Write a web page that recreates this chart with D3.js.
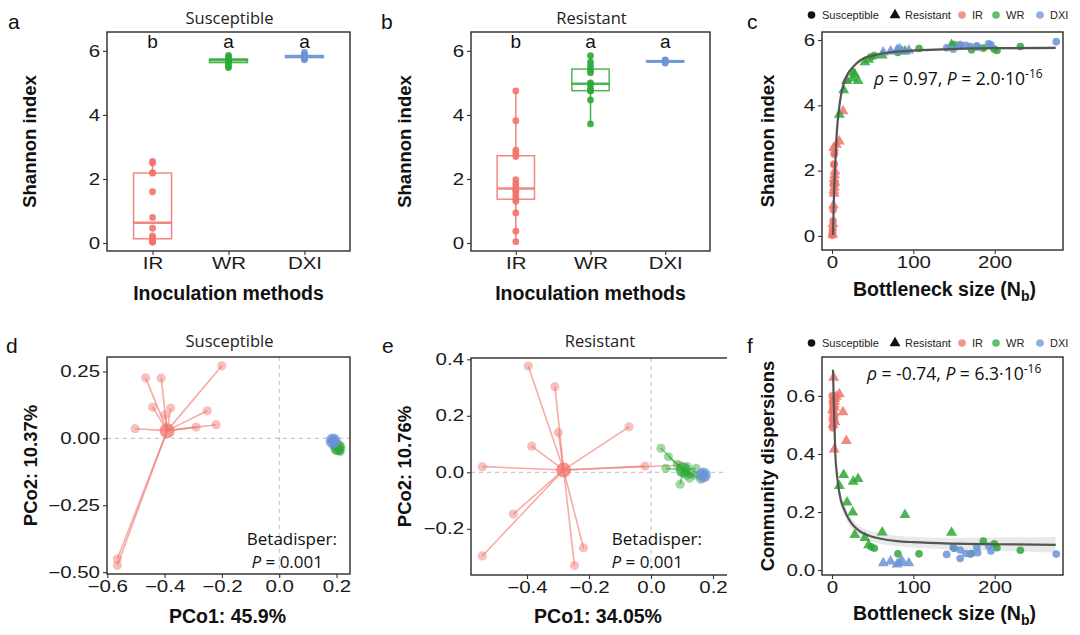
<!DOCTYPE html>
<html><head><meta charset="utf-8">
<script src="https://cdn.jsdelivr.net/npm/d3@7"></script>
<style>body{margin:0;background:#fff;}</style>
</head><body>
<script>
// ---------------- DATA ----------------
const methods = ["IR", "WR", "DXI"];
const hostTypes = ["Susceptible", "Resistant"];
const methodColors = ["#F0736A", "#2EA836", "#6B93D7"];
const sigLettersSus = ["b", "a", "a"];
const sigLettersRes = ["b", "a", "a"];

// Susceptible host: bottleneck size, Shannon index, community dispersion per sample
const susIR_nb   = [0.3, 0.5, 0.6, 0.8, 1.0, 1.3, 1.5, 2.0, 2.4, 2.6, 2.8, 3.0];
const susIR_shan = [0.02, 0.04, 0.08, 0.15, 0.22, 0.46, 0.8, 1.6, 2.18, 2.2, 2.5, 2.55];
const susIR_disp = [0.60, 0.58, 0.55, 0.49, 0.52, 0.50, 0.57, 0.54, 0.56, 0.53, 0.51, 0.59];
const susWR_nb   = [48, 52, 81, 107, 150, 171.6, 186, 199.5, 202.8, 231.6];
const susWR_shan = [5.48, 5.52, 5.62, 5.74, 5.86, 5.70, 5.75, 5.72, 5.68, 5.80];
const susWR_disp = [0.080, 0.075, 0.056, 0.056, 0.075, 0.057, 0.100, 0.090, 0.077, 0.068];
const susDXI_nb   = [141, 149, 157.5, 157.5, 164.6, 170, 178, 179, 192.6, 195.4, 275.7];
const susDXI_shan = [5.76, 5.72, 5.82, 5.86, 5.84, 5.80, 5.82, 5.78, 5.88, 5.85, 5.95];
const susDXI_disp = [0.054, 0.078, 0.069, 0.040, 0.057, 0.055, 0.078, 0.060, 0.083, 0.066, 0.055];

// Resistant host
const resIR_nb   = [0.8, 1.2, 1.8, 2.5, 2.2, 3.0, 2.8, 3.4, 2.6, 3.2, 3.6, 2.0, 5.3, 9.0, 13.5, 17.6];
const resIR_shan = [0.04, 0.37, 0.94, 1.3, 1.39, 1.49, 1.6, 1.65, 1.75, 1.86, 1.98, 2.7, 2.8, 2.9, 3.82, 4.75];
const resIR_disp = [0.55, 0.50, 0.53, 0.57, 0.52, 0.56, 0.416, 0.59, 0.54, 0.58, 0.51, 0.663, 0.598, 0.606, 0.544, 0.445];
const resWR_nb   = [9, 14.4, 18.5, 25.5, 26, 28, 32, 40.3, 45, 61.7, 89.7, 147];
const resWR_shan = [3.72, 4.47, 4.76, 4.83, 5.0, 4.95, 4.75, 5.32, 5.4, 5.53, 5.65, 5.85];
const resWR_disp = [0.29, 0.328, 0.233, 0.199, 0.305, 0.121, 0.314, 0.111, 0.086, 0.13, 0.19, 0.129];
const resDXI_nb   = [63, 72, 80, 83, 86, 94.5];
const resDXI_shan = [5.62, 5.65, 5.70, 5.72, 5.66, 5.68];
const resDXI_disp = [0.024, 0.030, 0.020, 0.025, 0.032, 0.024];

// fitted curves
const shanFitX  = [1.2, 2.5, 4.1, 6.1, 8.2, 11, 14.4, 19, 24.3, 30, 39, 50, 68, 90, 109, 146, 200, 275];
const shanFitY  = [0.03, 1.3, 2.23, 3.24, 3.8, 4.3, 4.67, 4.95, 5.13, 5.28, 5.44, 5.52, 5.61, 5.66, 5.69, 5.72, 5.75, 5.76];
const shanFitSE = [0.15, 0.12, 0.1, 0.08, 0.07, 0.06, 0.06, 0.05, 0.05, 0.05, 0.04, 0.04, 0.04, 0.04, 0.04, 0.04, 0.04, 0.05];
const dispFitX  = [1.2, 2, 2.8, 4.1, 6, 8.2, 11, 14.4, 18, 22.6, 28, 35, 45, 60, 80, 100, 150, 200, 275];
const dispFitY  = [0.69, 0.6, 0.52, 0.40, 0.33, 0.28, 0.24, 0.213, 0.19, 0.167, 0.148, 0.132, 0.119, 0.108, 0.1, 0.096, 0.091, 0.089, 0.087];
const dispFitSE = [0.03, 0.03, 0.03, 0.028, 0.026, 0.024, 0.022, 0.02, 0.019, 0.018, 0.018, 0.018, 0.018, 0.018, 0.018, 0.018, 0.02, 0.023, 0.027];

// PCoA coordinates [PCo1, PCo2]
const pcoaSusIR = [[-0.2,0.271],[-0.466,0.226],[-0.412,0.225],[-0.442,0.117],[-0.379,0.113],[-0.399,0.088],[-0.251,0.103],[-0.503,0.036],[-0.29,0.042],[-0.22,0.051],[-0.565,-0.451],[-0.565,-0.475]];
const pcoaSusWR = [[0.193,-0.02],[0.198,-0.028],[0.205,-0.035],[0.21,-0.045],[0.213,-0.05],[0.2,-0.03],[0.207,-0.038],[0.196,-0.022],[0.203,-0.042],[0.211,-0.036]];
const pcoaSusDXI = [[0.185,-0.008],[0.188,-0.012],[0.19,-0.01],[0.186,-0.015],[0.192,-0.006],[0.187,-0.004],[0.189,-0.013],[0.191,-0.009],[0.184,-0.011],[0.19,-0.016],[0.186,-0.007]];
const pcoaResIR = [[-0.396,0.376],[-0.31,0.303],[-0.299,0.141],[-0.385,0.093],[-0.071,0.161],[-0.544,0.02],[-0.019,0.022],[-0.444,-0.148],[-0.544,-0.296],[-0.218,-0.267],[-0.247,-0.33],[0.095,0.025]];
const pcoaResWR = [[0.032,0.085],[0.056,0.055],[0.085,0.028],[0.048,0.014],[0.094,-0.042],[0.124,-0.021],[0.145,0.014],[0.118,0.02],[0.13,-0.005],[0.105,0.005],[0.14,-0.01],[0.16,-0.025],[0.115,-0.01]];
const pcoaResDXI = [[0.165,-0.005],[0.17,-0.012],[0.168,-0.008],[0.172,-0.015],[0.166,-0.01],[0.171,-0.006]];

const shannonTicks = [0, 2, 4, 6];
const nbTicks = [0, 100, 200];
const dispTicks = [0, 0.2, 0.4, 0.6];
const pcoSusXTicks = [-0.6, -0.4, -0.2, 0, 0.2];
const pcoSusYTicks = [-0.5, -0.25, 0, 0.25];
const pcoResXTicks = [-0.4, -0.2, 0, 0.2];
const pcoResYTicks = [-0.2, 0, 0.2, 0.4];

// ---------------- DRAWING ----------------
const TF = '"Liberation Sans", Arial, Helvetica, sans-serif';
const AF = '"Open Sans", "Liberation Sans", sans-serif';
const TICK_SX = 1.28;
const svg = d3.select("body").append("svg").attr("width", 1080).attr("height", 635);
svg.append("rect").attr("width", 1080).attr("height", 635).attr("fill", "#fff");
const defs = svg.append("defs");
let clipN = 0;

function frame(g, x0, y0, x1, y1) {
  g.append("rect").attr("x", x0).attr("y", y0).attr("width", x1 - x0).attr("height", y1 - y0)
    .attr("fill", "none").attr("stroke", "#2a2a2a").attr("stroke-width", 1.4);
}
function clip(x0, y0, x1, y1) {
  const id = "clip" + (clipN++);
  defs.append("clipPath").attr("id", id).append("rect").attr("x", x0).attr("y", y0).attr("width", x1 - x0).attr("height", y1 - y0);
  return "url(#" + id + ")";
}
function styleAxis(sel) {
  sel.select(".domain").remove();
  sel.selectAll(".tick line").attr("stroke", "#333").attr("stroke-width", 1.1);
  sel.selectAll(".tick text").attr("fill", "#1a1a1a").style("font-family", TF).style("font-size", "16px")
    .attr("transform", `scale(${TICK_SX},1)`);
}
function yAxis(g, x0, y, ticks, fmt) {
  const a = g.append("g").attr("transform", `translate(${x0},0)`)
    .call(d3.axisLeft(y).tickValues(ticks).tickSize(4).tickPadding(3).tickFormat(fmt)).call(styleAxis);
  a.selectAll(".tick text").attr("x", -7 / TICK_SX);
}
function xAxis(g, y1, x, ticks, fmt) {
  const ax = d3.axisBottom(x).tickSize(4).tickPadding(3);
  if (ticks) ax.tickValues(ticks);
  if (fmt) ax.tickFormat(fmt);
  g.append("g").attr("transform", `translate(0,${y1})`).call(ax).call(styleAxis);
}
function yTitle(g, xb, yc, str) {
  g.append("text").attr("transform", `translate(${xb},${yc}) rotate(-90)`).attr("text-anchor", "middle")
    .style("font-family", TF).style("font-weight", "bold").style("font-size", "18.5px").attr("fill", "#111").text(str);
}
function xTitle(g, xc, yb, str, sub, tail) {
  const t = g.append("text").attr("x", xc).attr("y", yb).attr("text-anchor", "middle")
    .style("font-family", TF).style("font-weight", "bold").style("font-size", "19.5px").attr("fill", "#111");
  t.append("tspan").text(str);
  if (sub) {
    t.append("tspan").attr("dy", 5).style("font-size", "14px").text(sub);
    t.append("tspan").attr("dy", -5).text(tail);
  }
}
function panelLetter(g, x, y, l) {
  g.append("text").attr("x", x).attr("y", y).style("font-family", TF).style("font-size", "21px").attr("fill", "#111").text(l);
}
function title(g, xc, yb, str) {
  g.append("text").attr("x", xc).attr("y", yb).attr("text-anchor", "middle")
    .style("font-family", AF).style("font-size", "16.5px").attr("fill", "#222").text(str);
}

// ---- box plot panels (a, b) ----
function boxPanel(x0, y0, x1, y1, vals, letters, ttl, letter, lx) {
  const g = svg.append("g");
  const x = d3.scalePoint().domain(methods).range([x0, x1]).padding(0.6);
  const y = d3.scaleLinear().domain([-0.25, 6.59]).range([y1, y0]);
  const bw = x.step() * 0.5;
  vals.forEach((v, i) => {
    const s = v.slice().sort(d3.ascending);
    const q1 = d3.quantile(s, 0.25), md = d3.quantile(s, 0.5), q3 = d3.quantile(s, 0.75);
    const lo = s[0], hi = s[s.length - 1];
    const cx = x(methods[i]), col = methodColors[i];
    const bg = g.append("g").attr("stroke", col).attr("stroke-opacity", 0.85);
    bg.append("line").attr("x1", cx).attr("x2", cx).attr("y1", y(hi)).attr("y2", y(q3)).attr("stroke-width", 1.6);
    bg.append("line").attr("x1", cx).attr("x2", cx).attr("y1", y(q1)).attr("y2", y(lo)).attr("stroke-width", 1.6);
    bg.append("rect").attr("x", cx - bw / 2).attr("y", y(q3)).attr("width", bw).attr("height", Math.max(1, y(q1) - y(q3)))
      .attr("fill", "#fff").attr("stroke-width", 1.5);
    bg.append("line").attr("x1", cx - bw / 2).attr("x2", cx + bw / 2).attr("y1", y(md)).attr("y2", y(md)).attr("stroke-width", 2.6);
    g.selectAll(null).data(s).enter().append("circle").attr("cx", cx).attr("cy", d => y(d)).attr("r", 3.4)
      .attr("fill", col).attr("fill-opacity", 0.9);
    g.append("text").attr("x", cx).attr("y", y(6.1)).attr("text-anchor", "middle")
      .style("font-family", TF).style("font-size", "19px").attr("fill", "#111").text(letters[i]);
  });
  frame(g, x0, y0, x1, y1);
  yAxis(g, x0, y, shannonTicks, d3.format("d"));
  xAxis(g, y1, x);
  yTitle(g, lx, (y0 + y1) / 2, "Shannon index");
  xTitle(g, (x0 + x1) / 2, 300, "Inoculation methods");
  title(g, (x0 + x1) / 2 + 1, 24, ttl);
  panelLetter(g, letter[1], 29, letter[0]);
}
boxPanel(107, 32, 350, 251, [susIR_shan, susWR_shan, susDXI_shan], sigLettersSus, hostTypes[0], ["a", 8], 36);
boxPanel(471, 32, 710, 251, [resIR_shan, resWR_shan, resDXI_shan], sigLettersRes, hostTypes[1], ["b", 381], 410.5);

// ---- scatter panels (c, f) ----
const groupsNB = [
  { m: 0, host: 0, nb: susIR_nb, shan: susIR_shan, disp: susIR_disp },
  { m: 0, host: 1, nb: resIR_nb, shan: resIR_shan, disp: resIR_disp },
  { m: 1, host: 0, nb: susWR_nb, shan: susWR_shan, disp: susWR_disp },
  { m: 1, host: 1, nb: resWR_nb, shan: resWR_shan, disp: resWR_disp },
  { m: 2, host: 0, nb: susDXI_nb, shan: susDXI_shan, disp: susDXI_disp },
  { m: 2, host: 1, nb: resDXI_nb, shan: resDXI_shan, disp: resDXI_disp }
];
const symCircle = d3.symbol().type(d3.symbolCircle).size(46);
const symTri = d3.symbol().type(d3.symbolTriangle).size(52);

function legend(g, ly) {
  const lg = g.append("g").style("font-family", TF).style("font-size", "11px");
  const items = [
    { sx: 811.5, tx: 822, sym: symCircle, col: "#111", op: 1, label: hostTypes[0] },
    { sx: 895, tx: 905, sym: symTri, col: "#111", op: 1, label: hostTypes[1] },
    { sx: 962, tx: 972, sym: symCircle, col: methodColors[0], op: 0.75, label: methods[0] },
    { sx: 996, tx: 1006, sym: symCircle, col: methodColors[1], op: 0.75, label: methods[1] },
    { sx: 1040, tx: 1050, sym: symCircle, col: methodColors[2], op: 0.75, label: methods[2] }
  ];
  items.forEach(it => {
    lg.append("path").attr("d", it.sym()).attr("transform", `translate(${it.sx},${ly})`).attr("fill", it.col).attr("fill-opacity", it.op);
    lg.append("text").attr("x", it.tx).attr("y", ly + 4).attr("fill", "#222").text(it.label);
  });
}
function annot(g, x, y, parts) {
  const t = g.append("text").attr("x", x).attr("y", y).style("font-family", AF).style("font-size", "17.5px").attr("fill", "#111");
  parts.forEach(p => {
    const ts = t.append("tspan").text(p.t);
    if (p.it) ts.style("font-style", "italic");
    if (p.sup) ts.attr("dy", -7).style("font-size", "12px");
  });
}
function scatterPanel(x0, y0, x1, y1, ydom, key, ticks, fmt, fitX, fitY, fitSE, ttlY, letterY, legendY, letterStr, xTitleYb, annParts, annX, annY) {
  const g = svg.append("g");
  const x = d3.scaleLinear().domain([-12.3, 284]).range([x0, x1]);
  const y = d3.scaleLinear().domain(ydom).range([y1, y0]);
  const inner = g.append("g").attr("clip-path", clip(x0, y0, x1, y1));
  const fit = fitX.map((v, i) => [v, fitY[i], fitSE[i]]);
  inner.append("path").datum(fit).attr("fill", "#9a9a9a").attr("fill-opacity", 0.22)
    .attr("d", d3.area().curve(d3.curveMonotoneX).x(d => x(d[0])).y0(d => y(d[1] - d[2])).y1(d => y(d[1] + d[2])));
  groupsNB.forEach(gr => {
    const pts = gr.nb.map((v, i) => [v, gr[key][i]]);
    inner.selectAll(null).data(pts).enter().append("path")
      .attr("d", gr.host === 0 ? symCircle() : symTri())
      .attr("transform", d => `translate(${x(d[0])},${y(d[1])})`)
      .attr("fill", methodColors[gr.m]).attr("fill-opacity", 0.85);
  });
  inner.append("path").datum(fit).attr("fill", "none").attr("stroke", "#555").attr("stroke-width", 2.2)
    .attr("d", d3.line().curve(d3.curveMonotoneX).x(d => x(d[0])).y(d => y(d[1])));
  frame(g, x0, y0, x1, y1);
  yAxis(g, x0, y, ticks, fmt);
  xAxis(g, y1, x, nbTicks, d3.format("d"));
  yTitle(g, 773.5, (y0 + y1) / 2, ttlY);
  xTitle(g, (x0 + x1) / 2 + 2, xTitleYb, "Bottleneck size (N", "b", ")");
  panelLetter(g, 747, letterY, letterStr);
  legend(g, legendY);
  annot(g, annX, annY, annParts);
}
scatterPanel(822, 32, 1063, 250, [-0.43, 6.245], "shan", shannonTicks, d3.format("d"),
  shanFitX, shanFitY, shanFitSE, "Shannon index", 29, 15, "c", 296,
  [{ t: "ρ", it: true }, { t: " = 0.97, " }, { t: "P", it: true }, { t: " = 2.0·10" }, { t: "-16", sup: true }], 874, 85);
scatterPanel(822, 357, 1063, 575, [-0.017, 0.734], "disp", dispTicks, d3.format(".1f"),
  dispFitX, dispFitY, dispFitSE, "Community dispersions", 353, 343, "f", 620,
  [{ t: "ρ", it: true }, { t: " = -0.74, " }, { t: "P", it: true }, { t: " = 6.3·10" }, { t: "-16", sup: true }], 867, 380);

// ---- PCoA panels (d, e) ----
function pcoaPanel(x0, y0, x1, y1, xdom, ydom, xt, yt, xfmt, yfmt, sets, ttl, xlab, letter, lx, yb, betaX, visRight) {
  const outer = svg.append("g").attr("clip-path", clip(0, 0, visRight, 635));
  const g = outer.append("g");
  const x = d3.scaleLinear().domain(xdom).range([x0, x1]);
  const y = d3.scaleLinear().domain(ydom).range([y1, y0]);
  const inner = g.append("g").attr("clip-path", clip(x0, y0, x1, y1));
  inner.append("line").attr("x1", x(0)).attr("x2", x(0)).attr("y1", y0).attr("y2", y1)
    .attr("stroke", "#bbb").attr("stroke-dasharray", "4,4").attr("stroke-width", 1);
  inner.append("line").attr("x1", x0).attr("x2", x1).attr("y1", y(0)).attr("y2", y(0))
    .attr("stroke", "#bbb").attr("stroke-dasharray", "4,4").attr("stroke-width", 1);
  sets.forEach((pts, i) => {
    const col = methodColors[i];
    const c = [d3.mean(pts, d => d[0]), d3.mean(pts, d => d[1])];
    inner.selectAll(null).data(pts).enter().append("line")
      .attr("x1", x(c[0])).attr("y1", y(c[1])).attr("x2", d => x(d[0])).attr("y2", d => y(d[1]))
      .attr("stroke", col).attr("stroke-opacity", 0.6).attr("stroke-width", 1.6);
    inner.selectAll(null).data(pts).enter().append("circle")
      .attr("cx", d => x(d[0])).attr("cy", d => y(d[1])).attr("r", 4.6)
      .attr("fill", col).attr("fill-opacity", 0.45);
    inner.append("circle").attr("cx", x(c[0])).attr("cy", y(c[1])).attr("r", 7.5).attr("fill", col).attr("fill-opacity", 0.75);
  });
  frame(g, x0, y0, x1, y1);
  yAxis(g, x0, y, yt, yfmt);
  xAxis(g, y1, x, xt, xfmt);
  yTitle(g, lx, (y0 + y1) / 2, yb);
  xTitle(g, (Math.min(x1, visRight) + x0) / 2 - 1, 623, xlab);
  title(g, (Math.min(x1, visRight) + x0) / 2 + 1, 347, ttl);
  panelLetter(g, letter[1], 353, letter[0]);
  g.append("text").attr("x", betaX[0]).attr("y", 545).attr("text-anchor", "end")
    .style("font-family", AF).style("font-size", "17px").attr("fill", "#111").text("Betadisper:");
  const t = g.append("text").attr("x", betaX[1]).attr("y", 568).attr("text-anchor", "end")
    .style("font-family", AF).style("font-size", "17px").attr("fill", "#111");
  t.append("tspan").style("font-style", "italic").text("P");
  t.append("tspan").text(" = 0.001");
}
pcoaPanel(107, 357, 350, 574, [-0.601, 0.247], [-0.507, 0.304], pcoSusXTicks, pcoSusYTicks,
  d3.format(".1f"), d3.format(".2f"), [pcoaSusIR, pcoaSusWR, pcoaSusDXI], hostTypes[0], "PCo1: 45.9%", ["d", 6], 36.5, "PCo2: 10.37%", [337, 323], 1080);
pcoaPanel(471, 358, 730, 575, [-0.5806, 0.2548], [-0.3635, 0.4046], pcoResXTicks, pcoResYTicks,
  d3.format(".1f"), d3.format(".1f"), [pcoaResIR, pcoaResWR, pcoaResDXI], hostTypes[1], "PCo1: 34.05%", ["e", 382], 410.5, "PCo2: 10.76%", [702, 683], 727);
</script>
</body></html>
